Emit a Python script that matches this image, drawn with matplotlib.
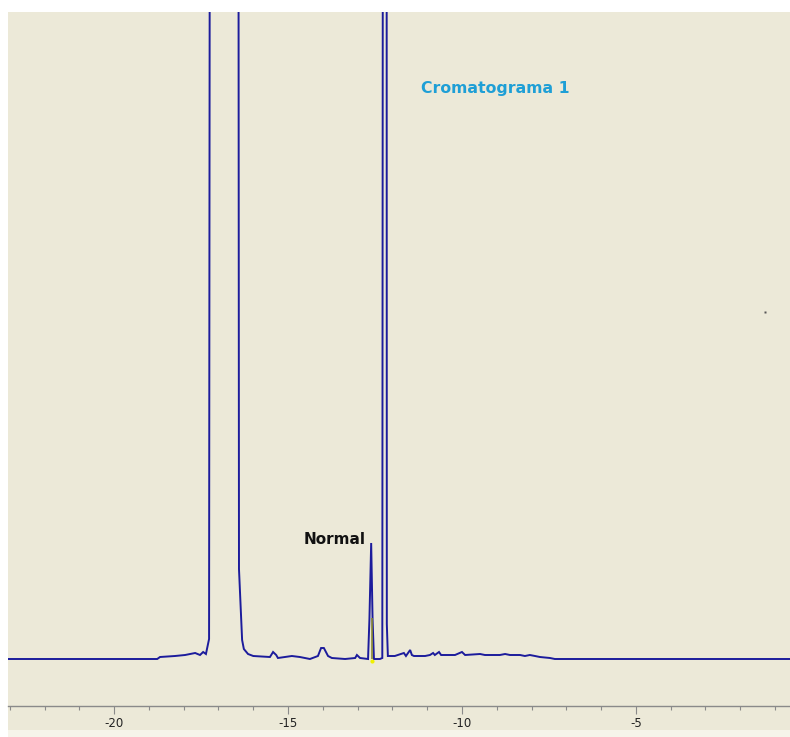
import matplotlib
matplotlib.use("Agg")
import matplotlib.pyplot as plt
from matplotlib.patches import Rectangle
from matplotlib.ticker import MultipleLocator

# Retention time (min) and detector signal (arbitrary units, off-scale peaks clipped)
time_min = [-23.05, -18.76, -18.68, -18.25, -17.96, -17.67, -17.53, -17.44, -17.36,
            -17.27, -17.23, -16.44, -16.41, -16.32, -16.27, -16.15, -16.00, -15.52,
            -15.43, -15.34, -15.29, -15.09, -14.89, -14.66, -14.37, -14.14, -14.05,
            -13.97, -13.85, -13.74, -13.36, -13.07, -13.02, -12.93, -12.70, -12.66,
            -12.61, -12.57, -12.53, -12.36, -12.29, -12.26, -12.17, -12.16, -12.13,
            -11.93, -11.67, -11.61, -11.49, -11.44, -11.38, -11.06, -10.92, -10.83,
            -10.78, -10.66, -10.60, -10.20, -10.00, -9.91, -9.48, -9.34, -8.91,
            -8.76, -8.62, -8.33, -8.19, -8.05, -7.90, -7.76, -7.47, -7.33, -0.57]
signal = [0, 0, 2, 3, 4, 6, 4, 7, 5,
          20, 1500, 1500, 90, 19, 10, 5, 3, 2,
          7, 4, 1, 2, 3, 2, 0, 3, 11,
          11, 3, 1, 0, 1, 4, 1, 0, 40,
          116, 40, 0, 0, 1, 1500, 1500, 35, 3,
          3, 6, 3, 9, 4, 3, 3, 4, 6,
          4, 7, 4, 4, 7, 4, 5, 4, 4,
          5, 4, 4, 3, 4, 3, 2, 1, 0, 0]

normal_time = -12.59
normal_height = 116
marker_time = -12.59
marker_height = 41
stray_point = (-1.29, 347)

tick_major = [-20, -15, -10, -5]
xlim = (-23.05, -0.57)
ylim = (-47, 647)

W, H = 790, 737
fig = plt.figure(figsize=(W / 100, H / 100), dpi=100, facecolor="white")
bg = "#ECE9D8"
fig.patches.append(Rectangle((8 / W, (H - 730) / H), (W - 8) / W, (730 - 12) / H,
                             transform=fig.transFigure, facecolor=bg, edgecolor="none",
                             zorder=-10))
fig.patches.append(Rectangle((8 / W, 0), (W - 8) / W, (H - 730) / H,
                             transform=fig.transFigure, facecolor="#F6F4EA",
                             edgecolor="none", zorder=-10))

ax = fig.add_axes([8 / W, (H - 706) / H, (W - 8) / W, (706 - 12) / H])
ax.set_facecolor("none")
ax.set_xlim(*xlim)
ax.set_ylim(*ylim)

line_color = "#1c1c9c"
ax.plot(time_min, signal, color=line_color, lw=1.4, solid_joinstyle="miter", zorder=3)
ax.vlines([marker_time], 0, marker_height, color="#8a8a30", lw=1.2, zorder=4)
ax.plot([marker_time], [-2], marker="o", ms=3, color="#f0f000", mec="none", zorder=5)
ax.plot([stray_point[0]], [stray_point[1]], marker="s", ms=1.8, color="#555555",
        mec="none", zorder=5)

ax.text(normal_time - 0.17, normal_height + 3, "Normal", ha="right", va="center",
        fontsize=11, fontweight="bold", color="#111111", family="DejaVu Sans")
ax.text(-11.18, 571, "Cromatograma 1", ha="left", va="center",
        fontsize=11.3, fontweight="bold", color="#1e9fd6", family="DejaVu Sans")

for s in ["top", "left", "right"]:
    ax.spines[s].set_visible(False)
ax.spines["bottom"].set_color("#8a8a8a")
ax.spines["bottom"].set_linewidth(1.0)
ax.set_yticks([])
ax.set_xticks(tick_major)
ax.set_xticklabels([str(t) for t in tick_major])
ax.xaxis.set_minor_locator(MultipleLocator(1))
ax.tick_params(axis="x", which="major", length=6, width=0.8, color="#8a8a8a",
               labelsize=8.5, labelcolor="#222222", pad=2)
ax.tick_params(axis="x", which="minor", length=3, width=0.8, color="#8a8a8a")

fig.savefig("out.png", dpi=100, facecolor="white")
